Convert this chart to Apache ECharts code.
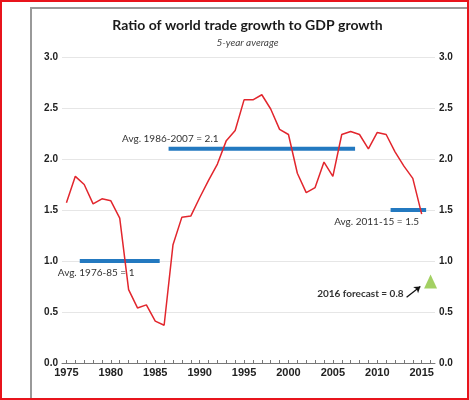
<!DOCTYPE html>
<html>
<head>
<meta charset="utf-8">
<script src="https://cdn.jsdelivr.net/npm/echarts@6/dist/echarts.min.js"></script>
<style>
  html, body { margin: 0; padding: 0; background: #fff; }
  #chart { width: 469px; height: 400px; }
</style>
</head>
<body>
<div id="chart"></div>
<script>
// trade growth / GDP growth ratio, 5-year average
let years = [1975, 1976, 1977, 1978, 1979, 1980, 1981, 1982, 1983, 1984,
             1985, 1986, 1987, 1988, 1989, 1990, 1991, 1992, 1993, 1994,
             1995, 1996, 1997, 1998, 1999, 2000, 2001, 2002, 2003, 2004,
             2005, 2006, 2007, 2008, 2009, 2010, 2011, 2012, 2013, 2014, 2015];
let ratio = [1.57, 1.83, 1.75, 1.56, 1.61, 1.59, 1.42, 0.72, 0.54, 0.57,
             0.41, 0.37, 1.16, 1.43, 1.44, 1.62, 1.79, 1.95, 2.18, 2.28,
             2.58, 2.58, 2.63, 2.49, 2.29, 2.24, 1.86, 1.67, 1.72, 1.97,
             1.83, 2.24, 2.27, 2.24, 2.10, 2.26, 2.24, 2.07, 1.93, 1.81, 1.46];

// period averages
let avgStart = [1976.5, 1986.5, 2011.5];
let avgEnd = [1985.5, 2007.5, 2015.5];
let avgValue = [1, 2.1, 1.5];
let avgText = ['Avg. 1976-85 = 1', 'Avg. 1986-2007 = 2.1', 'Avg. 2011-15 = 1.5'];

// forecast
let forecastYear = 2016;
let forecastValue = 0.8;
let forecastText = '2016 forecast = 0.8';

// axis ticks
let tickYears = [];
for (let y = 1975; y <= 2016; y++) tickYears.push(y);
let labelYears = [1975, 1980, 1985, 1990, 1995, 2000, 2005, 2010, 2015];

let textFont = "Lato, 'Liberation Sans', sans-serif";
let tickFont = "'Liberation Sans', Arial, sans-serif";
let myChart = echarts.init(document.getElementById('chart'));

let avgSeries = avgValue.map(function (v, i) {
    return {
        type: 'line',
        data: [[avgStart[i], v], [avgEnd[i], v]],
        symbol: 'none',
        lineStyle: {color: '#2379c0', width: 4},
        z: 3,
        silent: true
    };
});

function oneDecimal(v) { return v.toFixed(1); }

myChart.setOption({
    animation: false,
    textStyle: {fontFamily: tickFont},
    grid: {left: 62, right: 34, top: 57, bottom: 37},
    xAxis: {
        type: 'value',
        min: 1974.5,
        max: 2016.5,
        splitLine: {show: false},
        axisLine: {lineStyle: {color: '#777', width: 1}},
        axisTick: {customValues: tickYears, inside: true, length: 3, lineStyle: {color: '#777'}},
        axisLabel: {
            customValues: labelYears,
            margin: 4,
            fontSize: 11,
            fontWeight: 'bold',
            color: '#222',
            formatter: function (v) { return String(v); }
        }
    },
    yAxis: [
        {
            type: 'value', min: 0, max: 3, interval: 0.5, position: 'left',
            axisLine: {show: false}, axisTick: {show: false},
            splitLine: {lineStyle: {color: '#e6e6e6'}},
            axisLabel: {margin: 4, fontSize: 10, fontWeight: 'bold', color: '#222', formatter: oneDecimal}
        },
        {
            type: 'value', min: 0, max: 3, interval: 0.5, position: 'right',
            axisLine: {show: false}, axisTick: {show: false}, splitLine: {show: false},
            axisLabel: {margin: 4, fontSize: 10, fontWeight: 'bold', color: '#222', formatter: oneDecimal}
        }
    ],
    series: [
        {
            type: 'line',
            data: years.map(function (y, i) { return [y, ratio[i]]; }),
            symbol: 'none',
            lineStyle: {color: '#e2262d', width: 1.5},
            z: 4
        }
    ].concat(avgSeries).concat([
        {
            type: 'scatter',
            data: [[forecastYear, forecastValue]],
            symbol: 'triangle',
            symbolSize: [13, 14],
            itemStyle: {color: '#8cc43c'},
            z: 5,
            markLine: {
                silent: true,
                symbol: ['none', 'arrow'],
                symbolSize: 6,
                label: {show: false},
                lineStyle: {color: '#111', width: 1.3, type: 'solid'},
                data: [[{coord: [2013.3, 0.645]}, {coord: [2014.85, 0.75]}]]
            }
        }
    ])
});

// annotation texts placed next to their marks
function px(x, y) { return myChart.convertToPixel({gridIndex: 0}, [x, y]); }
let p0 = px(avgStart[0], avgValue[0]);
let p1 = px(avgStart[1], avgValue[1]);
let p2 = px(avgEnd[2], avgValue[2]);
let pf = px(forecastYear, forecastValue);

function note(text, x, y, align, bold) {
    return {
        type: 'text', x: x, y: y, z: 10,
        style: {
            text: text, fill: '#333', fontSize: 10, fontFamily: textFont,
            fontWeight: bold ? 'bold' : 'normal',
            align: align, verticalAlign: 'middle'
        }
    };
}

myChart.setOption({
    graphic: [
        {type: 'polyline', shape: {points: [[31, 400], [31, 8], [469, 8]]},
         style: {stroke: '#999', lineWidth: 2, fill: null}, z: 1},
        {type: 'rect', shape: {x: 1, y: 1, width: 467, height: 398},
         style: {stroke: '#e8141c', lineWidth: 2, fill: null}, z: 20},
        {type: 'text', x: 247.5, y: 25, z: 10,
         style: {text: 'Ratio of world trade growth to GDP growth', fill: '#1a1a1a',
                 fontSize: 14, fontWeight: 'bold', fontFamily: textFont,
                 align: 'center', verticalAlign: 'middle'}},
        {type: 'text', x: 247.5, y: 43, z: 10,
         style: {text: '5-year average', fill: '#444', fontSize: 10, fontStyle: 'italic',
                 fontFamily: textFont, align: 'center', verticalAlign: 'middle'}},
        note(avgText[0], p0[0] - 22, p0[1] + 12, 'left', false),
        note(avgText[1], p1[0] + 50, p1[1] - 10, 'right', false),
        note(avgText[2], p2[0] - 7, p2[1] + 12, 'right', false),
        note(forecastText, pf[0] - 27, pf[1] + 12, 'right', true)
    ]
});
</script>
</body>
</html>
